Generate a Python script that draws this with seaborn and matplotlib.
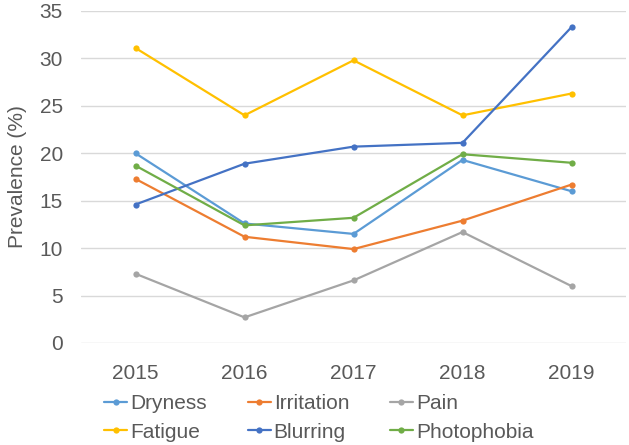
import pandas as pd
import matplotlib.pyplot as plt
import seaborn as sns

# data
years = [2015, 2016, 2017, 2018, 2019]
dryness = [20.0, 12.6, 11.5, 19.3, 16.0]
irritation = [17.3, 11.2, 9.9, 12.9, 16.7]
pain = [7.3, 2.7, 6.6, 11.7, 6.0]
fatigue = [31.1, 24.0, 29.8, 24.0, 26.3]
blurring = [14.6, 18.9, 20.7, 21.1, 33.3]
photophobia = [18.7, 12.4, 13.2, 19.9, 19.0]

series = {
    "Dryness": dryness,
    "Irritation": irritation,
    "Pain": pain,
    "Fatigue": fatigue,
    "Blurring": blurring,
    "Photophobia": photophobia,
}
colors = ["#5B9BD5", "#ED7D31", "#A5A5A5", "#FFC000", "#4472C4", "#70AD47"]

rows = []
for name, vals in series.items():
    for y, v in zip(years, vals):
        rows.append({"Year": y, "Symptom": name, "Prevalence": v})
df = pd.DataFrame(rows)

sns.set_style("white")
plt.rcParams["font.family"] = ["Liberation Sans", "DejaVu Sans"]
text_col = "#595959"

fig = plt.figure(figsize=(6.29, 4.45), dpi=100)
ax = fig.add_axes([81 / 629, 1 - 343 / 445, 545 / 629, 332 / 445])

sns.lineplot(data=df, x="Year", y="Prevalence", hue="Symptom",
             palette=colors, marker="o", markersize=4.5, markeredgewidth=0,
             linewidth=1.6, ax=ax, legend=True)

ax.set_xlim(2014.5, 2019.5)
ax.set_ylim(0, 35)
ax.set_xticks(years)
ax.set_xticklabels([str(y) for y in years])
ax.set_yticks(range(0, 36, 5))
ax.grid(axis="y", color="#D9D9D9", linewidth=1)
ax.set_axisbelow(True)
for s in ax.spines.values():
    s.set_visible(False)
ax.tick_params(axis="both", length=0, labelsize=15, colors=text_col)
ax.tick_params(axis="y", pad=13)
ax.tick_params(axis="x", pad=15)
ax.set_xlabel("")
ax.set_ylabel("Prevalence (%)", fontsize=15, color=text_col, labelpad=9)

# legend fills column by column, so reorder to get rows like the reference
handles, labels = ax.get_legend_handles_labels()
ax.legend_.remove()
order = [0, 3, 1, 4, 2, 5]
leg = fig.legend([handles[i] for i in order], [labels[i] for i in order],
                 ncol=3, loc="upper left",
                 bbox_to_anchor=(96 / 629, 1 - 386 / 445), frameon=False,
                 fontsize=15, handlelength=1.1, handletextpad=0.15,
                 columnspacing=1.95, labelspacing=0.45, borderaxespad=0)
for t in leg.get_texts():
    t.set_color(text_col)

fig.savefig("out.png", dpi=100)
